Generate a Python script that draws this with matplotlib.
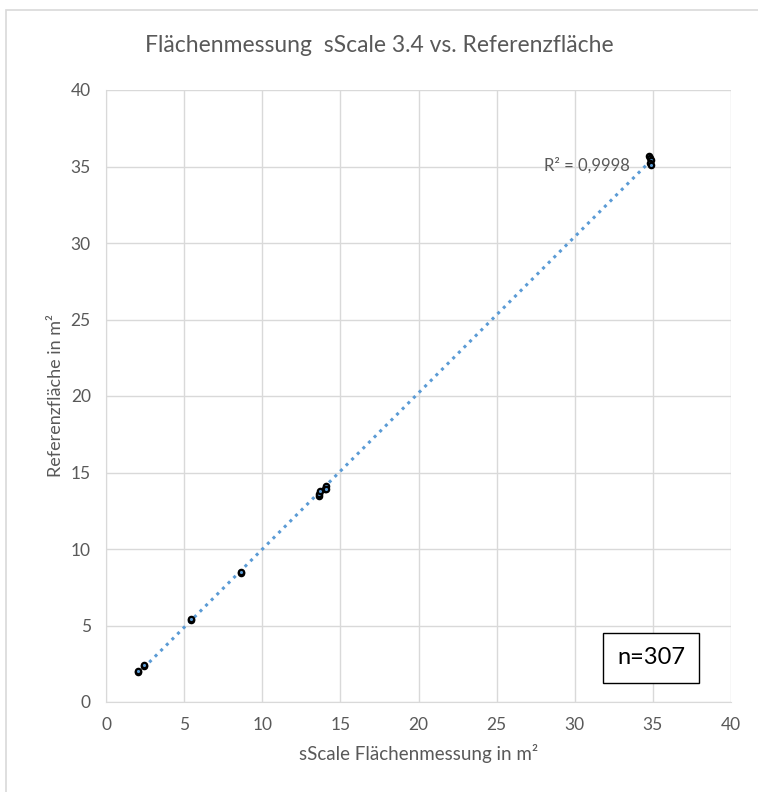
import numpy as np
import matplotlib.pyplot as plt
from matplotlib.patches import Rectangle

plt.rcParams['font.family'] = ['Lato', 'DejaVu Sans']

# measured area (sScale) vs reference area, m²
sscale = [2.05, 2.05, 2.43, 2.45, 5.44, 5.42, 8.64, 8.62,
          13.6, 13.6, 13.7, 14.0, 14.1, 14.05,
          34.75, 34.8, 34.85, 34.8, 34.9]
referenz = [1.96, 2.02, 2.35, 2.40, 5.36, 5.40, 8.43, 8.50,
            13.45, 13.6, 13.8, 13.9, 14.1, 13.95,
            35.7, 35.55, 35.4, 35.2, 35.1]
n_label = "n=307"
r2_label = "R² = 0,9998"
title = "Flächenmessung  sScale 3.4 vs. Referenzfläche"
xlabel = "sScale Flächenmessung in m²"
ylabel = "Referenzfläche in m²"

txt = "#595959"
grid = "#d9d9d9"

fig = plt.figure(figsize=(7.58, 7.92), dpi=100)
# chart area border (Excel style)
fig.patches.append(Rectangle((6/758, -0.1), 1.2, 1 - 10/792 + 0.1,
                             transform=fig.transFigure, fill=False,
                             edgecolor=grid, linewidth=1.2))

ax = fig.add_axes([106/758, 1 - 702/792, 625/758, 612/792])

# linear trendline
x = np.array(sscale)
y = np.array(referenz)
k, d = np.polyfit(x, y, 1)
xt = np.array([x.min(), x.max()])
ax.plot(xt, k * xt + d, linestyle=(0, (1, 1.6)), color="#5b9bd5",
        linewidth=2.2, zorder=2)

ax.scatter(x, y, s=15, facecolor="#5b9bd5", edgecolor="black",
           linewidth=1.6, zorder=3)

ax.set_xlim(0, 40)
ax.set_ylim(0, 40)
ax.set_xticks(range(0, 41, 5))
ax.set_yticks(range(0, 41, 5))
ax.grid(True, color=grid, linewidth=1)
ax.set_axisbelow(True)
for s in ["top", "right"]:
    ax.spines[s].set_visible(False)
ax.spines["left"].set_color(grid)
ax.spines["bottom"].set_color(grid)
ax.tick_params(length=0, colors=txt, labelsize=12.5, pad=11)

ax.set_xlabel(xlabel, color=txt, fontsize=13.5, labelpad=8)
ax.set_ylabel(ylabel, color=txt, fontsize=13, labelpad=5)
fig.text(0.5, 1 - 45/792, title, ha="center", va="center",
         color=txt, fontsize=16.5)

ax.text(33.5, 35.1, r2_label, ha="right", va="center", color=txt,
        fontsize=12)

ax.text(0.872, 0.072, n_label, transform=ax.transAxes, ha="center",
        va="center", fontsize=17, color="black",
        bbox=dict(boxstyle="square,pad=0.6", facecolor="white",
                  edgecolor="black", linewidth=1))

fig.savefig("out.png", dpi=100)
